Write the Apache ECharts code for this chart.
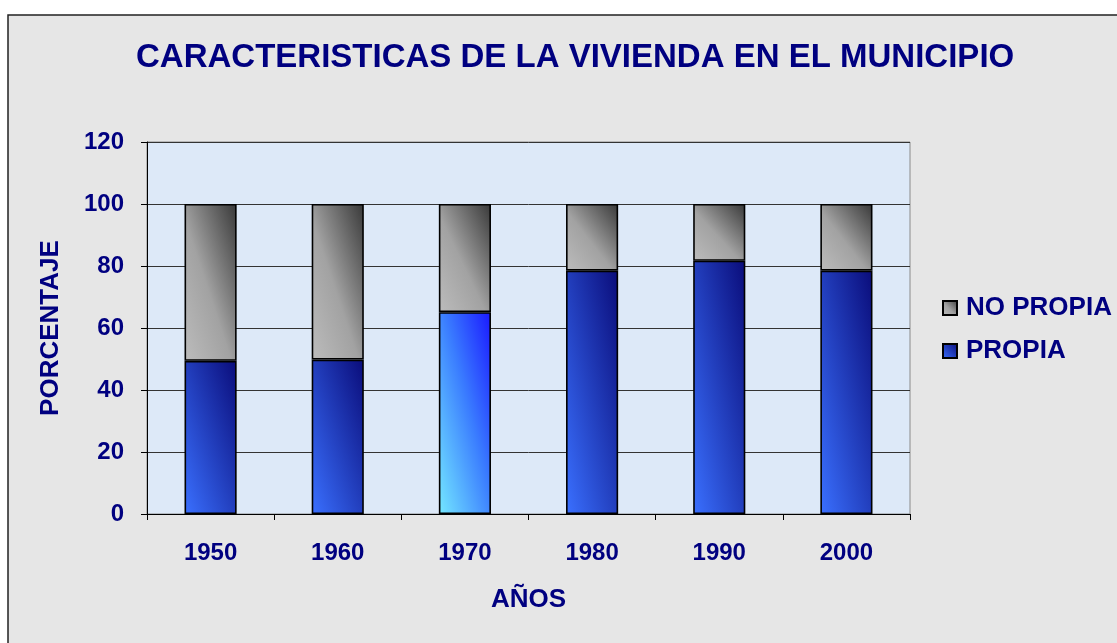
<!DOCTYPE html>
<html>
<head>
<meta charset="utf-8">
<script src="https://cdn.jsdelivr.net/npm/echarts@6/dist/echarts.min.js"></script>
<style>
  html, body { margin: 0; padding: 0; background: #fff; }
  #main { width: 1117px; height: 643px; }
</style>
</head>
<body>
<div id="main"></div>
<script>
// datos
const years = ['1950', '1960', '1970', '1980', '1990', '2000'];
const propia = [49.4, 49.8, 65.1, 78.5, 81.7, 78.5];
const noPropia = [50.6, 50.2, 34.9, 21.5, 18.3, 21.5];

const navy = '#000080';
const font = 'Liberation Sans, Arial, sans-serif';

const blueStops = [{offset: 0, color: '#3a70ff'}, {offset: 1, color: '#0a0c7a'}];
const cyanStops = [{offset: 0, color: '#74e8ff'}, {offset: 0.55, color: '#3a7cff'}, {offset: 1, color: '#1a18ff'}];
const grayStops = [{offset: 0, color: '#bcbcbc'}, {offset: 0.45, color: '#a2a2a2'}, {offset: 1, color: '#383838'}];

/**
 * degradado diagonal como en excel (esquina inf-izq a sup-der, normalizado)
 * w, h = tamaño aproximado de la barra en px
 */
function diag(value, stops) {
  let w = 52, h = Math.max(value * 3.1, 1);
  let l2 = w * w + h * h;
  return new echarts.graphic.LinearGradient(0, 1, 2 * h * h / l2, 1 - 2 * w * w / l2, stops);
}

let chart = echarts.init(document.getElementById('main'));

let propiaData = propia.map((v, i) => {
  let stops = years[i] === '1970' ? cyanStops : blueStops;
  return {value: v, itemStyle: {color: diag(v, stops)}};
});
let noPropiaData = noPropia.map(v => ({value: v, itemStyle: {color: diag(v, grayStops)}}));

let option = {
  backgroundColor: '#ffffff',
  animation: false,
  graphic: [{
    type: 'rect',
    z: -10,
    shape: {x: 8, y: 15, width: 1130, height: 650},
    style: {fill: '#e6e6e6', stroke: '#222', lineWidth: 1.5}
  }],
  title: {
    text: 'CARACTERISTICAS DE LA VIVIENDA EN EL MUNICIPIO',
    left: 131,
    top: 36,
    textStyle: {color: navy, fontFamily: font, fontWeight: 'bold', fontSize: 33}
  },
  legend: {
    data: [
      {name: 'NO PROPIA', itemStyle: {color: new echarts.graphic.LinearGradient(0, 1, 1, 0, grayStops)}},
      {name: 'PROPIA', itemStyle: {color: new echarts.graphic.LinearGradient(0, 1, 1, 0, blueStops)}}
    ],
    orient: 'vertical',
    left: 937,
    top: 290,
    itemWidth: 14,
    itemHeight: 14,
    itemGap: 17,
    icon: 'rect',
    textStyle: {color: navy, fontFamily: font, fontWeight: 'bold', fontSize: 26, padding: [0, 0, 0, 4]}
  },
  grid: {
    left: 147,
    top: 142,
    right: 207,
    bottom: 129,
    show: true,
    backgroundColor: '#dde9f8',
    borderColor: '#8a8a8a',
    borderWidth: 1
  },
  xAxis: {
    type: 'category',
    data: years,
    name: 'AÑOS',
    nameLocation: 'middle',
    nameGap: 73,
    nameTextStyle: {color: navy, fontFamily: font, fontWeight: 'bold', fontSize: 26},
    axisLine: {lineStyle: {color: '#000', width: 1}},
    axisTick: {show: true, length: 6, lineStyle: {color: '#000'}},
    axisLabel: {color: navy, fontFamily: font, fontWeight: 'bold', fontSize: 24, margin: 27}
  },
  yAxis: {
    type: 'value',
    min: 0,
    max: 120,
    interval: 20,
    name: 'PORCENTAJE',
    nameLocation: 'middle',
    nameRotate: 90,
    nameGap: 83,
    nameTextStyle: {color: navy, fontFamily: font, fontWeight: 'bold', fontSize: 26},
    axisLine: {show: true, lineStyle: {color: '#000', width: 1}},
    axisTick: {show: true, length: 6, lineStyle: {color: '#000'}},
    axisLabel: {color: navy, fontFamily: font, fontWeight: 'bold', fontSize: 24, margin: 23},
    splitLine: {show: true, lineStyle: {color: '#333', width: 1}}
  },
  series: [
    {
      name: 'PROPIA',
      type: 'bar',
      stack: 'total',
      barWidth: '41%',
      data: propiaData,
      itemStyle: {color: blueStops[0].color, borderColor: '#000', borderWidth: 1.6}
    },
    {
      name: 'NO PROPIA',
      type: 'bar',
      stack: 'total',
      barWidth: '41%',
      data: noPropiaData,
      itemStyle: {color: grayStops[1].color, borderColor: '#000', borderWidth: 1.6}
    }
  ]
};

chart.setOption(option);
</script>
</body>
</html>
